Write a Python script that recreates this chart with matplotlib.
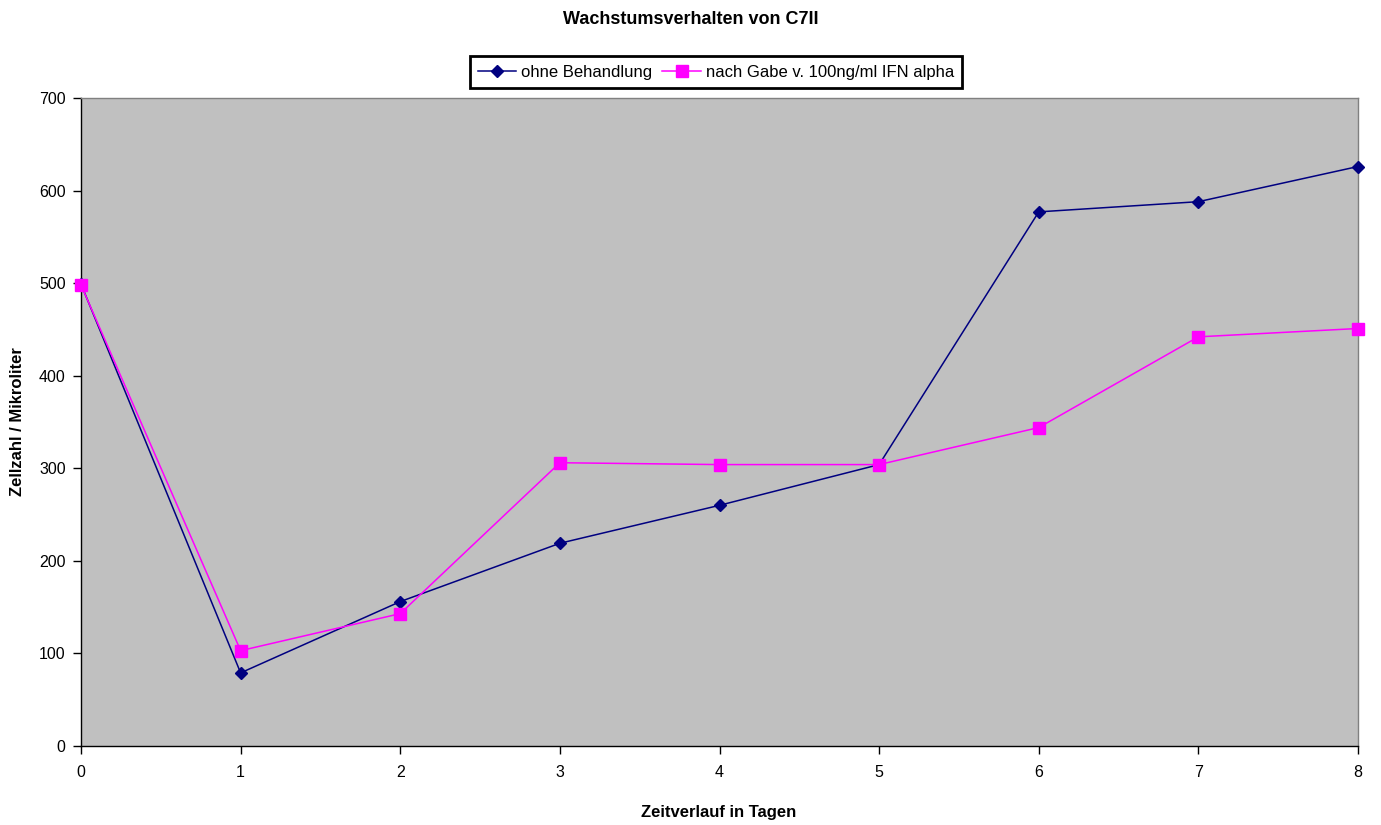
import matplotlib
matplotlib.use("Agg")
import matplotlib.pyplot as plt

plt.rcParams['font.family'] = ['Liberation Sans', 'DejaVu Sans']

days = [0, 1, 2, 3, 4, 5, 6, 7, 8]
ohne = [499, 79, 156, 219, 260, 304, 577, 588, 626]
ifn = [498, 103, 143, 306, 304, 304, 344, 442, 451]
yticks = [0, 100, 200, 300, 400, 500, 600, 700]

fig = plt.figure(figsize=(13.81, 8.25), dpi=100)
ax = fig.add_axes([81/1381, 79/825, 1277/1381, 648/825])
ax.set_facecolor('#C0C0C0')

ax.plot(days, ohne, color='#000080', lw=1.1, marker='D', ms=6.5,
        mfc='#000080', mec='#000080', label='ohne Behandlung', clip_on=False, zorder=3)
ax.plot(days, ifn, color='#FF00FF', lw=1.1, marker='s', ms=8,
        mfc='#FF00FF', mec='#FF00FF', label='nach Gabe v. 100ng/ml IFN alpha', clip_on=False, zorder=3)

ax.set_xlim(0, 8)
ax.set_ylim(0, 700)
ax.set_xticks(days)
ax.set_yticks(yticks)
ax.tick_params(axis='both', labelsize=11.5, direction='out', length=6, width=1, color='black')
ax.tick_params(axis='x', pad=8)
ax.tick_params(axis='y', pad=5)

for s in ['left', 'bottom']:
    ax.spines[s].set_color('black')
    ax.spines[s].set_linewidth(1.0)
for s in ['top', 'right']:
    ax.spines[s].set_color('#808080')
    ax.spines[s].set_linewidth(1.0)

fig.text(719/1381, 1 - 812/825, 'Zeitverlauf in Tagen', ha='center', va='center',
         fontsize=12, fontweight='bold')
fig.text(18/1381, 1 - 422/825, 'Zellzahl / Mikroliter', ha='center', va='center',
         rotation=90, fontsize=12, fontweight='bold')
fig.text(0.5, 1 - 19/825, 'Wachstumsverhalten von C7II', ha='center', va='center',
         fontsize=13, fontweight='bold')

leg = ax.legend(loc='center', bbox_to_anchor=(716/1381, 1 - 72/825), bbox_transform=fig.transFigure,
                ncol=2, fontsize=12, frameon=True, fancybox=False, handlelength=2.3,
                columnspacing=0.6, handletextpad=0.3, borderpad=0.5, framealpha=1)
leg.get_frame().set_edgecolor('black')
leg.get_frame().set_linewidth(2)

fig.savefig('out.png', dpi=100)
